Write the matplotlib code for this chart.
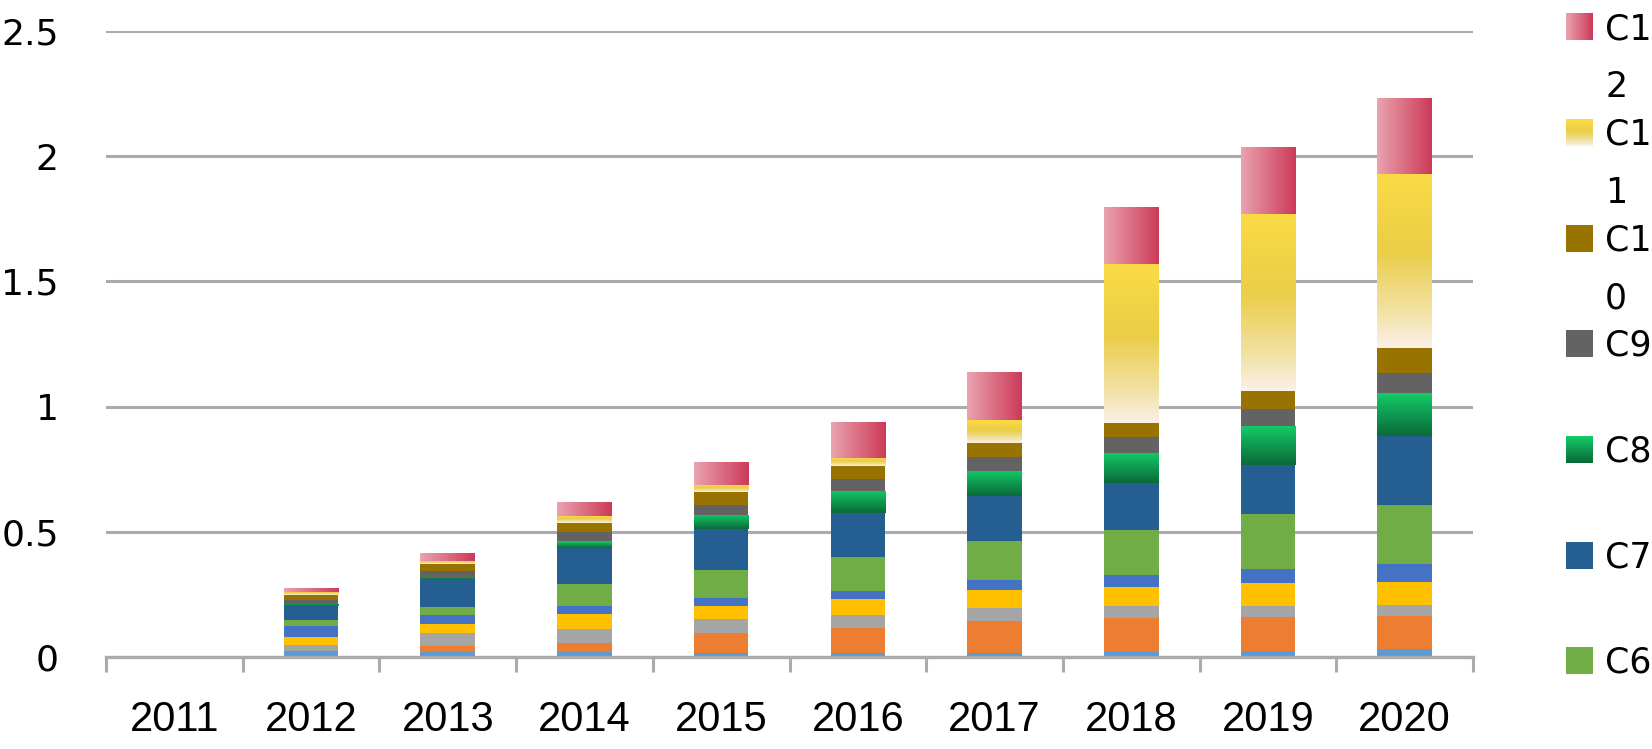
import matplotlib
matplotlib.use("Agg")
import matplotlib.pyplot as plt
import numpy as np
from matplotlib.colors import LinearSegmentedColormap
from matplotlib.patches import Rectangle

# stacked values per series
years = ["2011", "2012", "2013", "2014", "2015", "2016", "2017", "2018", "2019", "2020"]
c1 = [0, 0.023, 0.020, 0.019, 0.016, 0.016, 0.016, 0.020, 0.023, 0.032]
c2 = [0, 0.000, 0.023, 0.037, 0.080, 0.100, 0.129, 0.137, 0.135, 0.132]
c3 = [0, 0.024, 0.053, 0.056, 0.056, 0.053, 0.051, 0.047, 0.047, 0.043]
c4 = [0, 0.033, 0.035, 0.058, 0.052, 0.064, 0.071, 0.076, 0.092, 0.093]
c5 = [0, 0.043, 0.037, 0.034, 0.030, 0.031, 0.040, 0.046, 0.056, 0.071]
c6 = [0, 0.025, 0.033, 0.087, 0.114, 0.136, 0.157, 0.182, 0.217, 0.236]
c7 = [0, 0.057, 0.110, 0.146, 0.164, 0.174, 0.179, 0.185, 0.197, 0.276]
c8 = [0, 0.008, 0.009, 0.027, 0.056, 0.088, 0.100, 0.121, 0.154, 0.171]
c9 = [0, 0.016, 0.025, 0.036, 0.041, 0.049, 0.056, 0.065, 0.070, 0.082]
c10 = [0, 0.017, 0.027, 0.035, 0.048, 0.052, 0.057, 0.054, 0.070, 0.097]
c11 = [0, 0.014, 0.012, 0.029, 0.030, 0.033, 0.091, 0.636, 0.708, 0.696]
c12 = [0, 0.015, 0.031, 0.056, 0.093, 0.143, 0.190, 0.227, 0.268, 0.302]

names = ["C1", "C2", "C3", "C4", "C5", "C6", "C7", "C8", "C9", "C10", "C11", "C12"]
series = [c1, c2, c3, c4, c5, c6, c7, c8, c9, c10, c11, c12]
yticks = [0, 0.5, 1, 1.5, 2, 2.5]
ytick_labels = ["0", "0.5", "1", "1.5", "2", "2.5"]

colors = ["#5B9BD5", "#ED7D31", "#A5A5A5", "#FFC000", "#4472C4", "#70AD47",
          "#255E91", "#10A655", "#636363", "#997300", "#EFD04A", "#DB6F85"]

# gradient fills: (cmap, horizontal?)
grad_c8 = LinearSegmentedColormap.from_list(
    "c8", [(0, "#14CC66"), (0.35, "#10A858"), (1, "#0A6A38")])
grad_c11 = LinearSegmentedColormap.from_list(
    "c11", [(0, "#FBDB45"), (0.45, "#EBCD47"), (0.8, "#F2E2A6"), (1, "#FBF1E8")])
grad_c12 = LinearSegmentedColormap.from_list(
    "c12", [(0, "#EAA3AF"), (1, "#CC3A58")])
gradients = {"C8": (grad_c8, False), "C11": (grad_c11, False), "C12": (grad_c12, True)}

GRID = "#ABABAB"


def gradient_image(ax, x0, y0, w, h, cmap, horizontal, z, clip=None):
    ramp = np.linspace(0, 1, 256)
    img = ramp[np.newaxis, :] if horizontal else ramp[:, np.newaxis]
    im = ax.imshow(img, cmap=cmap, extent=(x0, x0 + w, y0, y0 + h), aspect="auto",
                   interpolation="bilinear", origin="upper", zorder=z)
    if clip is not None:
        im.set_clip_path(clip)
    return im


fig = plt.figure(figsize=(16.52, 7.49), dpi=100)
ax = fig.add_axes([106 / 1652, 1 - 657 / 749, (1473 - 106) / 1652, (657 - 31) / 749])

x = np.arange(len(years))
bottom = np.zeros(len(years))
for name, vals, col in zip(names, series, colors):
    bars = ax.bar(x, vals, 0.4, bottom=bottom, color=col, linewidth=0, zorder=2)
    if name in gradients:
        cmap, horiz = gradients[name]
        for p in bars:
            if p.get_height() <= 0:
                continue
            gradient_image(ax, p.get_x(), p.get_y(), p.get_width(), p.get_height(),
                           cmap, horiz, 2.5, clip=p)
    bottom += np.array(vals)

ax.set_xlim(-0.5, len(years) - 0.5)
ax.set_ylim(0, 2.5)

# y axis: gridlines only, no ticks
ax.set_yticks(yticks)
ax.set_yticklabels(ytick_labels, fontsize=26, family="DejaVu Sans")
ax.tick_params(axis="y", length=0, pad=34)
ax.yaxis.grid(True, color=GRID, linewidth=2.2)
ax.set_axisbelow(True)

# x axis: tick marks between categories, labels at centres
ax.set_xticks(np.arange(-0.5, len(years)), minor=False)
ax.set_xticklabels([])
ax.set_xticks(x, minor=True)
ax.set_xticklabels(years, minor=True, fontsize=30, family="Liberation Sans")
ax.tick_params(axis="x", which="major", direction="out", length=11, width=2.2, color=GRID)
ax.tick_params(axis="x", which="minor", length=0, pad=31)

for side in ["top", "right", "left"]:
    ax.spines[side].set_visible(False)
ax.spines["bottom"].set_color(GRID)
ax.spines["bottom"].set_linewidth(2.4)

# legend drawn by hand so every entry gets the same height (labels wrap like the original);
# as in the original only the entries from C12 down to C6 fit in the figure
lax = fig.add_axes([0, 0, 1, 1], zorder=5)
lax.set_xlim(0, 1652)
lax.set_ylim(749, 0)
lax.axis("off")
for k, (name, col) in enumerate(zip(names[::-1], colors[::-1])):
    cy = 27 + k * 105.6
    if cy > 700:
        break
    if name in gradients:
        cmap, horiz = gradients[name]
        ramp = np.linspace(0, 1, 64)
        img = ramp[np.newaxis, :] if horiz else ramp[:, np.newaxis]
        lax.imshow(img, cmap=cmap, extent=(1566, 1593, cy + 13.5, cy - 13.5),
                   aspect="auto", interpolation="bilinear", origin="upper")
    else:
        lax.add_patch(Rectangle((1566, cy - 13.5), 27, 27, facecolor=col, linewidth=0))
    lax.text(1605, cy + 2, name[:2], fontsize=25, family="DejaVu Sans", va="center", ha="left")
    if len(name) > 2:
        lax.text(1605, cy + 60, name[2:], fontsize=25, family="DejaVu Sans", va="center", ha="left")
lax.set_xlim(0, 1652)
lax.set_ylim(749, 0)

fig.savefig("out.png", dpi=100)
